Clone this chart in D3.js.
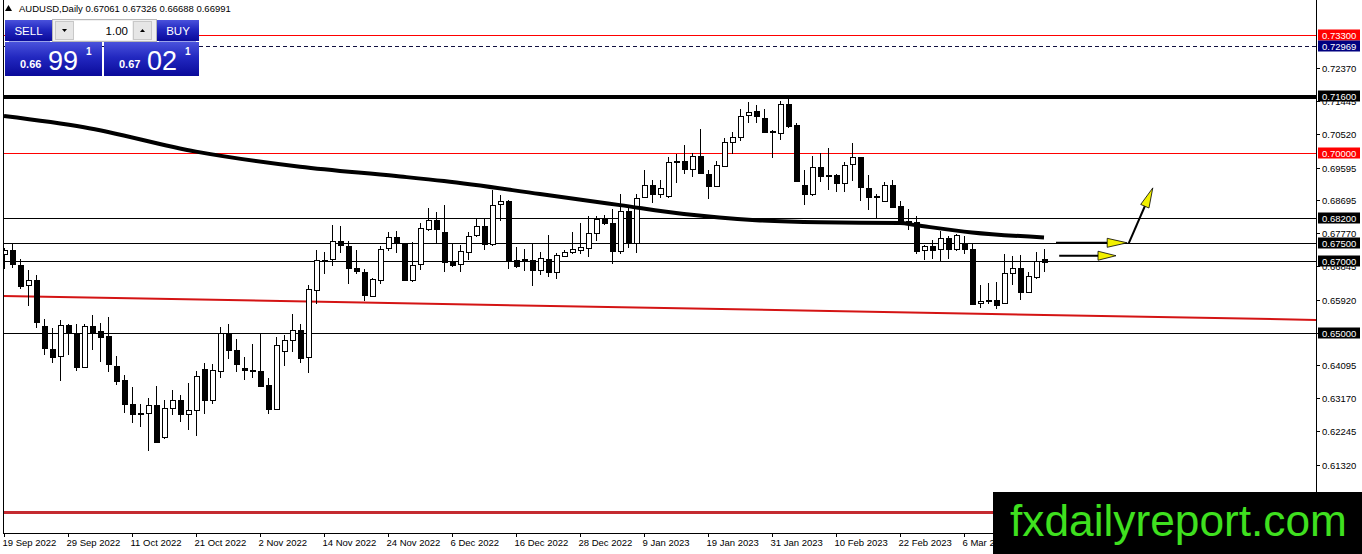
<!DOCTYPE html>
<html>
<head>
<meta charset="utf-8">
<script src="https://cdn.jsdelivr.net/npm/d3@7"></script>
<style>
html, body { margin: 0; padding: 0; background: #fff; overflow: hidden; }
svg { display: block; font-family: "Liberation Sans", Arial, sans-serif; }
</style>
</head>
<body>
<svg width="1362" height="554"></svg>
<script>
// AUDUSD daily candles, 19 Sep 2022 -> 20 Mar 2023
const openP = [
    0.6717, 0.6729, 0.6689, 0.6632, 0.6645, 0.6517, 0.6455, 0.6436, 0.6522, 0.6499,
    0.6404, 0.6517, 0.6503, 0.6489, 0.6408, 0.6369, 0.6301, 0.6276, 0.6276, 0.6299,
    0.6208, 0.6290, 0.6311, 0.6271, 0.6283, 0.6399, 0.6313, 0.6393, 0.6499, 0.6452,
    0.6402, 0.6396, 0.6394, 0.6353, 0.6287, 0.6448, 0.6480, 0.6508, 0.6430, 0.6620,
    0.6701, 0.6703, 0.6754, 0.6742, 0.6681, 0.6668, 0.6604, 0.6647, 0.6734, 0.6765,
    0.6748, 0.6648, 0.6689, 0.6787, 0.6813, 0.6780, 0.6699, 0.6689, 0.6726, 0.6770,
    0.6796, 0.6745, 0.6857, 0.6866, 0.6703, 0.6702, 0.6703, 0.6675, 0.6706, 0.6669,
    0.6713, 0.6725, 0.6731, 0.6737, 0.6776, 0.6819, 0.6804, 0.6727, 0.6838, 0.6752,
    0.6878, 0.6912, 0.6887, 0.6878, 0.6974, 0.6978, 0.6954, 0.6991, 0.6943, 0.6909,
    0.6964, 0.7030, 0.7045, 0.7106, 0.7117, 0.7099, 0.7061, 0.7058, 0.7138, 0.7078,
    0.6910, 0.6885, 0.6960, 0.6934, 0.6938, 0.6915, 0.6968, 0.6988, 0.6904, 0.6877,
    0.6867, 0.6911, 0.6852, 0.6811, 0.6807, 0.6729, 0.6740, 0.6731, 0.6762, 0.6731,
    0.6746, 0.6732, 0.6582, 0.6592, 0.6592, 0.6582, 0.6666, 0.6681, 0.6613, 0.6655,
    0.67061
];
const highP = [
    0.6736, 0.6748, 0.6706, 0.6673, 0.6659, 0.6539, 0.6513, 0.6534, 0.6525, 0.6525,
    0.6525, 0.6550, 0.6527, 0.6543, 0.6434, 0.6382, 0.6347, 0.6301, 0.6318, 0.6350,
    0.6313, 0.6341, 0.6327, 0.6359, 0.6394, 0.6416, 0.6413, 0.6515, 0.6525, 0.6481,
    0.6431, 0.6469, 0.6496, 0.6374, 0.6487, 0.6492, 0.6553, 0.6525, 0.6633, 0.6729,
    0.6725, 0.6799, 0.6796, 0.6754, 0.6731, 0.6678, 0.6653, 0.6740, 0.6780, 0.6783,
    0.6750, 0.6753, 0.6805, 0.6848, 0.6836, 0.6855, 0.6748, 0.6743, 0.6780, 0.6815,
    0.6815, 0.6897, 0.6883, 0.6869, 0.6737, 0.6734, 0.6748, 0.6725, 0.6771, 0.6722,
    0.6729, 0.6780, 0.6804, 0.6824, 0.6824, 0.6827, 0.6845, 0.6887, 0.6850, 0.6887,
    0.6952, 0.6926, 0.6924, 0.6990, 0.6997, 0.7022, 0.6999, 0.7066, 0.6952, 0.6978,
    0.7041, 0.7059, 0.7124, 0.7143, 0.7134, 0.7122, 0.7064, 0.7146, 0.7159, 0.7083,
    0.6952, 0.6992, 0.6999, 0.7013, 0.6943, 0.6976, 0.7029, 0.6990, 0.6938, 0.6887,
    0.6920, 0.6925, 0.6867, 0.6843, 0.6824, 0.6743, 0.6757, 0.6783, 0.6768, 0.6774,
    0.6768, 0.6748, 0.6632, 0.6638, 0.6641, 0.6718, 0.6712, 0.6715, 0.6669, 0.6725,
    0.67326
];
const lowP = [
    0.6678, 0.6680, 0.6622, 0.6574, 0.6513, 0.6438, 0.6416, 0.6365, 0.6438, 0.6392,
    0.6401, 0.6450, 0.6418, 0.6390, 0.6353, 0.6276, 0.6248, 0.6236, 0.6169, 0.6194,
    0.6204, 0.6269, 0.6250, 0.6229, 0.6211, 0.6272, 0.6301, 0.6373, 0.6427, 0.6390,
    0.6369, 0.6373, 0.6348, 0.6273, 0.6283, 0.6407, 0.6446, 0.6415, 0.6387, 0.6580,
    0.6664, 0.6685, 0.6722, 0.6636, 0.6664, 0.6588, 0.6599, 0.6636, 0.6727, 0.6722,
    0.6644, 0.6641, 0.6673, 0.6783, 0.6748, 0.6669, 0.6683, 0.6669, 0.6701, 0.6766,
    0.6729, 0.6740, 0.6811, 0.6678, 0.6681, 0.6672, 0.6629, 0.6659, 0.6655, 0.6650,
    0.6711, 0.6720, 0.6720, 0.6711, 0.6754, 0.6799, 0.6690, 0.6720, 0.6736, 0.6722,
    0.6876, 0.6861, 0.6876, 0.6876, 0.6917, 0.6943, 0.6932, 0.6941, 0.6873, 0.6906,
    0.6962, 0.6997, 0.7034, 0.7083, 0.7085, 0.7055, 0.6985, 0.7036, 0.7071, 0.6920,
    0.6855, 0.6881, 0.6920, 0.6897, 0.6892, 0.6892, 0.6923, 0.6867, 0.6841, 0.6815,
    0.6864, 0.6848, 0.6799, 0.6785, 0.6720, 0.6703, 0.6706, 0.6699, 0.6706, 0.6727,
    0.6718, 0.6579, 0.6569, 0.6579, 0.6566, 0.6580, 0.6632, 0.6592, 0.6610, 0.6650,
    0.66688
];
const closeP = [
    0.6729, 0.6689, 0.6630, 0.6645, 0.6527, 0.6455, 0.6434, 0.6522, 0.6499, 0.6404,
    0.6517, 0.6499, 0.6487, 0.6410, 0.6365, 0.6301, 0.6273, 0.6273, 0.6299, 0.6197,
    0.6290, 0.6311, 0.6271, 0.6283, 0.6378, 0.6313, 0.6397, 0.6499, 0.6452, 0.6413,
    0.6396, 0.6393, 0.6351, 0.6287, 0.6466, 0.6480, 0.6508, 0.6430, 0.6620, 0.6703,
    0.6703, 0.6754, 0.6742, 0.6681, 0.6672, 0.6604, 0.6650, 0.6734, 0.6765, 0.6748,
    0.6648, 0.6689, 0.6790, 0.6813, 0.6787, 0.6697, 0.6687, 0.6726, 0.6770, 0.6796,
    0.6745, 0.6855, 0.6866, 0.6701, 0.6686, 0.6704, 0.6675, 0.6709, 0.6669, 0.6715,
    0.6725, 0.6734, 0.6738, 0.6778, 0.6816, 0.6804, 0.6727, 0.6838, 0.6752, 0.6876,
    0.6912, 0.6887, 0.6903, 0.6974, 0.6977, 0.6956, 0.6991, 0.6943, 0.6909, 0.6968,
    0.7030, 0.7045, 0.7104, 0.7115, 0.7104, 0.7059, 0.7058, 0.7138, 0.7076, 0.6923,
    0.6886, 0.6960, 0.6934, 0.6938, 0.6915, 0.6966, 0.6988, 0.6904, 0.6878, 0.6879,
    0.6911, 0.6850, 0.6806, 0.6807, 0.6727, 0.6740, 0.6729, 0.6762, 0.6731, 0.6771,
    0.6731, 0.6580, 0.6588, 0.6588, 0.6579, 0.6666, 0.6681, 0.6613, 0.6657, 0.6699,
    0.66991
];

// moving average, sampled at some bars
const maBars = [0, 10, 24, 37, 49, 55, 67, 77, 85, 94, 102, 112, 114, 121, 130];
const maValues = [0.7103, 0.7072, 0.7004, 0.6962, 0.6936, 0.6922, 0.6886, 0.6855, 0.6830, 0.6813, 0.6807, 0.6805, 0.6799, 0.6779, 0.6765];

// red trend line (bar, price), drawn as a ray to the right
const trendBars = [0, 130];
const trendPrices = [0.6602, 0.6549];

// horizontal levels
const levelPrices = [0.7330, 0.72969, 0.7160, 0.7000, 0.6820, 0.6750, 0.6700, 0.6500, 0.6000];

// right axis tick labels
const priceTicks = ["0.72370", "0.71445", "0.70520", "0.69595", "0.68695", "0.67770", "0.66845",
    "0.65920", "0.64995", "0.64095", "0.63170", "0.62245", "0.61320"];

// time axis labels
const dateBars = [0, 8, 16, 24, 32, 40, 48, 56, 64, 72, 80, 88, 96, 104, 112, 120];
const dateLabels = ["19 Sep 2022", "29 Sep 2022", "11 Oct 2022", "21 Oct 2022", "2 Nov 2022",
    "14 Nov 2022", "24 Nov 2022", "6 Dec 2022", "16 Dec 2022", "28 Dec 2022", "9 Jan 2023",
    "19 Jan 2023", "31 Jan 2023", "10 Feb 2023", "22 Feb 2023", "6 Mar 2023"];

// arrows drawn on the chart (bar, price pairs)
const arrowFrom = [[131.5, 0.6750], [140.6, 0.6749], [131.9, 0.6714]];
const arrowTo = [[140.4, 0.6750], [143.6, 0.6903], [139.0, 0.6714]];

const symbol = "AUDUSD";
const timeframe = "Daily";
const bidParts = ["0.66", "99", "1"];
const askParts = ["0.67", "02", "1"];
const lotSize = "1.00";

// ---------------------------------------------------------------

const plot = {left: 3, right: 1316, top: 0, bottom: 533};
const watermark = {x: 993, y: 492, w: 369, h: 62};

const svg = d3.select("svg");

const x = d3.scaleLinear().domain([0, 130]).range([4, 1044]);
const y = d3.scaleLinear().domain([0.6000, 0.72370]).range([512, 68]);

const defs = svg.append("defs");
defs.append("clipPath").attr("id", "plotClip")
    .append("rect")
    .attr("x", plot.left).attr("y", plot.top)
    .attr("width", plot.right - plot.left).attr("height", plot.bottom - plot.top);

const blueGrad = defs.append("linearGradient").attr("id", "blueGrad")
    .attr("x1", 0).attr("y1", 0).attr("x2", 0).attr("y2", 1);
blueGrad.append("stop").attr("offset", "0%").attr("stop-color", "#4a52dc");
blueGrad.append("stop").attr("offset", "45%").attr("stop-color", "#2228c0");
blueGrad.append("stop").attr("offset", "100%").attr("stop-color", "#0a0a9a");

const chart = svg.append("g").attr("clip-path", "url(#plotClip)");

// styling of each level line
const levelStyles = [
    {stroke: "#ff0000", width: 1, dash: null, bg: "#ff0000"},
    {stroke: "#101040", width: 1, dash: "4,3", bg: "#000080"},
    {stroke: "#000000", width: 4, dash: null, bg: "#000000"},
    {stroke: "#ff0000", width: 1, dash: null, bg: "#ff0000"},
    {stroke: "#000000", width: 1, dash: null, bg: "#000000"},
    {stroke: "#000000", width: 1, dash: null, bg: "#000000"},
    {stroke: "#000000", width: 1, dash: null, bg: "#000000"},
    {stroke: "#000000", width: 1, dash: null, bg: "#000000"},
    {stroke: "#c42a30", width: 3, dash: null, bg: "#ff0000"},
];

const crisp = v => Math.round(v) + 0.5;

// level lines
chart.selectAll(".level")
    .data(levelPrices)
    .enter()
    .append("line")
    .attr("class", "level")
    .attr("shape-rendering", "crispEdges")
    .attr("x1", plot.left).attr("x2", plot.right)
    .attr("y1", d => crisp(y(d))).attr("y2", d => crisp(y(d)))
    .attr("stroke", (d, i) => levelStyles[i].stroke)
    .attr("stroke-width", (d, i) => levelStyles[i].width)
    .attr("stroke-dasharray", (d, i) => levelStyles[i].dash);

// trend line extended to the right edge
const slope = (trendPrices[1] - trendPrices[0]) / (trendBars[1] - trendBars[0]);
const lastBar = x.invert(plot.right);
const firstBar = x.invert(plot.left);
chart.append("line")
    .attr("x1", x(firstBar)).attr("y1", y(trendPrices[0] + slope * (firstBar - trendBars[0])))
    .attr("x2", x(lastBar)).attr("y2", y(trendPrices[0] + slope * (lastBar - trendBars[0])))
    .attr("stroke", "#d41414")
    .attr("stroke-width", 2);

// candles
const bars = d3.range(openP.length).map(i => ({
    i: i, o: openP[i], h: highP[i], l: lowP[i], c: closeP[i]
}));

const candle = chart.selectAll(".candle")
    .data(bars)
    .enter()
    .append("g")
    .attr("class", "candle")
    .attr("shape-rendering", "crispEdges");

candle.append("line")
    .attr("x1", d => crisp(x(d.i))).attr("x2", d => crisp(x(d.i)))
    .attr("y1", d => y(d.h)).attr("y2", d => y(d.l))
    .attr("stroke", "#000");

candle.append("rect")
    .attr("x", d => Math.round(x(d.i)) - 2)
    .attr("width", 5)
    .attr("y", d => Math.round(y(Math.max(d.o, d.c))))
    .attr("height", d => Math.max(0, Math.round(Math.abs(y(d.o) - y(d.c)))))
    .attr("fill", d => d.c >= d.o ? "#fff" : "#000")
    .attr("stroke", "#000")
    .attr("stroke-width", 1);

// moving average
const maLine = d3.line()
    .x((d, i) => x(maBars[i]))
    .y(d => y(d))
    .curve(d3.curveMonotoneX);
chart.append("path")
    .attr("d", maLine(maValues))
    .attr("fill", "none")
    .attr("stroke", "#000")
    .attr("stroke-width", 4);

// arrows
function drawArrow(from, to, headLen, headHalf) {
    const x1 = x(from[0]), y1 = y(from[1]);
    const x2 = x(to[0]), y2 = y(to[1]);
    const ang = Math.atan2(y2 - y1, x2 - x1);
    const bx = x2 - headLen * Math.cos(ang), by = y2 - headLen * Math.sin(ang);
    const nx = -Math.sin(ang) * headHalf, ny = Math.cos(ang) * headHalf;
    chart.append("line")
        .attr("x1", x1).attr("y1", y1).attr("x2", bx).attr("y2", by)
        .attr("stroke", "#000").attr("stroke-width", 2);
    chart.append("path")
        .attr("d", "M" + x2 + "," + y2 + "L" + (bx + nx) + "," + (by + ny) + "L" + (bx - nx) + "," + (by - ny) + "Z")
        .attr("fill", "#f2f000")
        .attr("stroke", "#000")
        .attr("stroke-width", 0.8);
}
arrowFrom.forEach((f, k) => drawArrow(f, arrowTo[k], k === 2 ? 18 : 20, 4.5));

// frame
svg.append("line").attr("x1", plot.left + 0.5).attr("x2", plot.left + 0.5)
    .attr("y1", plot.top).attr("y2", plot.bottom + 0.5).attr("stroke", "#000");
svg.append("line").attr("x1", plot.left).attr("x2", plot.right + 0.5)
    .attr("y1", plot.bottom + 0.5).attr("y2", plot.bottom + 0.5).attr("stroke", "#000");
svg.append("line").attr("x1", plot.right + 0.5).attr("x2", plot.right + 0.5)
    .attr("y1", plot.top).attr("y2", plot.bottom + 0.5).attr("stroke", "#000");

// right axis ticks and labels
const axisG = svg.append("g");
priceTicks.forEach(t => {
    const yy = crisp(y(+t));
    axisG.append("line")
        .attr("x1", plot.right).attr("x2", plot.right + 4)
        .attr("y1", yy).attr("y2", yy).attr("stroke", "#000");
    axisG.append("text")
        .attr("x", plot.right + 6).attr("y", yy + 3.5)
        .attr("font-size", 9.5).attr("fill", "#000")
        .text(t);
});

// level labels on the axis (the ones under the watermark are not shown)
levelPrices.forEach((p, i) => {
    const yy = Math.round(y(p));
    if (yy + 6 > watermark.y) return;
    axisG.append("rect")
        .attr("x", plot.right + 2).attr("y", yy - 5.5)
        .attr("width", 42).attr("height", 11)
        .attr("fill", levelStyles[i].bg);
    axisG.append("text")
        .attr("x", plot.right + 6).attr("y", yy + 3.5)
        .attr("font-size", 9.5).attr("fill", "#fff")
        .text(p.toFixed(5));
});

// time axis
dateBars.forEach((b, k) => {
    const xx = crisp(x(b));
    svg.append("line")
        .attr("x1", xx).attr("x2", xx)
        .attr("y1", plot.bottom).attr("y2", plot.bottom + 4)
        .attr("stroke", "#000");
    svg.append("text")
        .attr("x", xx - 2).attr("y", 546)
        .attr("font-size", 9.5).attr("fill", "#000")
        .text(dateLabels[k]);
});

// header
const last = bars[bars.length - 1];
svg.append("path").attr("d", "M5,11 L8.5,5 L12,11 Z").attr("fill", "#000");
svg.append("text")
    .attr("x", 19).attr("y", 12)
    .attr("font-size", 9.5).attr("fill", "#000")
    .text(symbol + "," + timeframe + "  " + [last.o, last.h, last.l, last.c].map(v => v.toFixed(5)).join(" "));

// one click trading panel
const panel = svg.append("g");
panel.append("rect").attr("x", 5).attr("y", 20).attr("width", 47).attr("height", 21).attr("fill", "url(#blueGrad)");
panel.append("rect").attr("x", 157).attr("y", 20).attr("width", 42).attr("height", 21).attr("fill", "url(#blueGrad)");
panel.append("rect").attr("x", 52.5).attr("y", 19.5).attr("width", 104).attr("height", 22)
    .attr("fill", "#f0f0f0").attr("stroke", "#b8b8b8");
panel.append("rect").attr("x", 55.5).attr("y", 21.5).attr("width", 18).attr("height", 18)
    .attr("fill", "#e6e6e6").attr("stroke", "#c8c8c8");
panel.append("rect").attr("x", 74).attr("y", 21).attr("width", 58).attr("height", 19).attr("fill", "#fff");
panel.append("rect").attr("x", 133.5).attr("y", 21.5).attr("width", 18).attr("height", 18)
    .attr("fill", "#e6e6e6").attr("stroke", "#c8c8c8");
panel.append("path").attr("d", "M62,29 L67,29 L64.5,32 Z").attr("fill", "#000");
panel.append("path").attr("d", "M140,32 L145,32 L142.5,29 Z").attr("fill", "#000");
panel.append("text").attr("x", 128).attr("y", 35).attr("text-anchor", "end")
    .attr("font-size", 11.5).attr("fill", "#000").text(lotSize);
panel.append("text").attr("x", 28.5).attr("y", 35).attr("text-anchor", "middle")
    .attr("font-size", 11.5).attr("fill", "#fff").text("SELL");
panel.append("text").attr("x", 178).attr("y", 35).attr("text-anchor", "middle")
    .attr("font-size", 11.5).attr("fill", "#fff").text("BUY");
panel.append("line").attr("x1", 9).attr("x2", 50).attr("y1", 41.5).attr("y2", 41.5).attr("stroke", "#9aa2ea");
panel.append("line").attr("x1", 159).attr("x2", 196).attr("y1", 41.5).attr("y2", 41.5).attr("stroke", "#9aa2ea");

function priceBox(x0, w, parts) {
    panel.append("rect").attr("x", x0).attr("y", 42).attr("width", w).attr("height", 34).attr("fill", "url(#blueGrad)");
    panel.append("text").attr("x", x0 + 15).attr("y", 68)
        .attr("font-size", 11).attr("font-weight", "bold").attr("fill", "#fff").text(parts[0]);
    panel.append("text").attr("x", x0 + 43).attr("y", 69.5)
        .attr("font-size", 27).attr("fill", "#fff").text(parts[1]);
    panel.append("text").attr("x", x0 + 81).attr("y", 55)
        .attr("font-size", 10).attr("font-weight", "bold").attr("fill", "#fff").text(parts[2]);
}
priceBox(5, 97, bidParts);
priceBox(104, 95, askParts);

// watermark
svg.append("rect").attr("x", watermark.x).attr("y", watermark.y)
    .attr("width", watermark.w).attr("height", watermark.h).attr("fill", "#000");
svg.append("text")
    .attr("x", 1010).attr("y", 536)
    .attr("font-size", 44)
    .attr("textLength", 337).attr("lengthAdjust", "spacingAndGlyphs")
    .attr("fill", "#3fe01f")
    .text("fxdailyreport.com");
</script>
</body>
</html>
